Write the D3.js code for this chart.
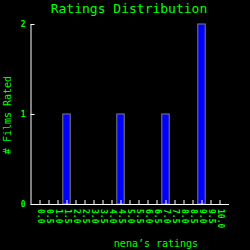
<!DOCTYPE html>
<html>
<head>
<meta charset="utf-8">
<script src="https://cdn.jsdelivr.net/npm/d3@7"></script>
<style>
body { margin: 0; background: #000; }
svg { display: block; background: #000; }
</style>
</head>
<body>
<svg id="chart" width="250" height="250"></svg>
<script>
let ratings = ["0.0","0.5","1.0","1.5","2.0","2.5","3.0","3.5","4.0","4.5","5.0",
	"5.5","6.0","6.5","7.0","7.5","8.0","8.5","9.0","9.5","10.0"];
let counts = [0,0,0,1,0,0,0,0,0,1,0,0,0,0,1,0,0,0,2,0,0];
let yTicks = [0, 1, 2];

let green = "#00ff00";
let font = "DejaVu Sans Mono, monospace";
let margin = {top: 24, right: 21.5, bottom: 46, left: 30.5};
let width = 250, height = 250;

let x = d3.scalePoint()
	.domain(ratings)
	.range([margin.left, width - margin.right])
	.padding(1);
let y = d3.scaleLinear()
	.domain([0, 2])
	.range([height - margin.bottom, margin.top]);

let svg = d3.select("#chart");

// bars
svg.append("g")
	.selectAll("rect")
	.data(ratings.map((r, i) => ({r: r, c: counts[i]})).filter(d => d.c > 0))
	.join("rect")
	.attr("x", d => x(d.r) - 3.7)
	.attr("y", d => y(d.c))
	.attr("width", 7.4)
	.attr("height", d => y(0) - y(d.c))
	.attr("fill", "#0000ff")
	.attr("stroke", "#808080")
	.attr("stroke-width", 1);

let xAxis = svg.append("g")
	.attr("transform", `translate(0,${y(0)})`)
	.call(d3.axisBottom(x).tickSize(-4).tickSizeOuter(0));
xAxis.selectAll("text")
	.attr("transform", "rotate(90)")
	.attr("x", 5)
	.attr("y", 0)
	.attr("dy", "0.3em")
	.attr("text-anchor", "start")
	.attr("font-size", 8);

let yAxis = svg.append("g")
	.attr("transform", `translate(${margin.left},0)`)
	.call(d3.axisLeft(y).tickValues(yTicks).tickFormat(d3.format("d")).tickSize(-4).tickPadding(5).tickSizeOuter(0));
yAxis.selectAll("text").attr("font-size", 8);

svg.selectAll(".domain, .tick line")
	.attr("stroke", "#fff");
svg.selectAll(".tick text")
	.attr("fill", green)
	.attr("font-family", font)
	.attr("font-weight", "bold");

svg.append("text")
	.attr("x", 129)
	.attr("y", 13)
	.attr("text-anchor", "middle")
	.attr("fill", green)
	.attr("font-family", font)
	.attr("font-size", 13)
	.text("Ratings Distribution");

svg.append("text")
	.attr("x", 156)
	.attr("y", 247)
	.attr("text-anchor", "middle")
	.attr("fill", green)
	.attr("font-family", font)
	.attr("font-size", 10)
	.text("nena’s ratings");

svg.append("text")
	.attr("transform", "translate(11,115) rotate(-90)")
	.attr("text-anchor", "middle")
	.attr("fill", green)
	.attr("font-family", font)
	.attr("font-size", 10)
	.text("# Films Rated");
</script>
</body>
</html>
